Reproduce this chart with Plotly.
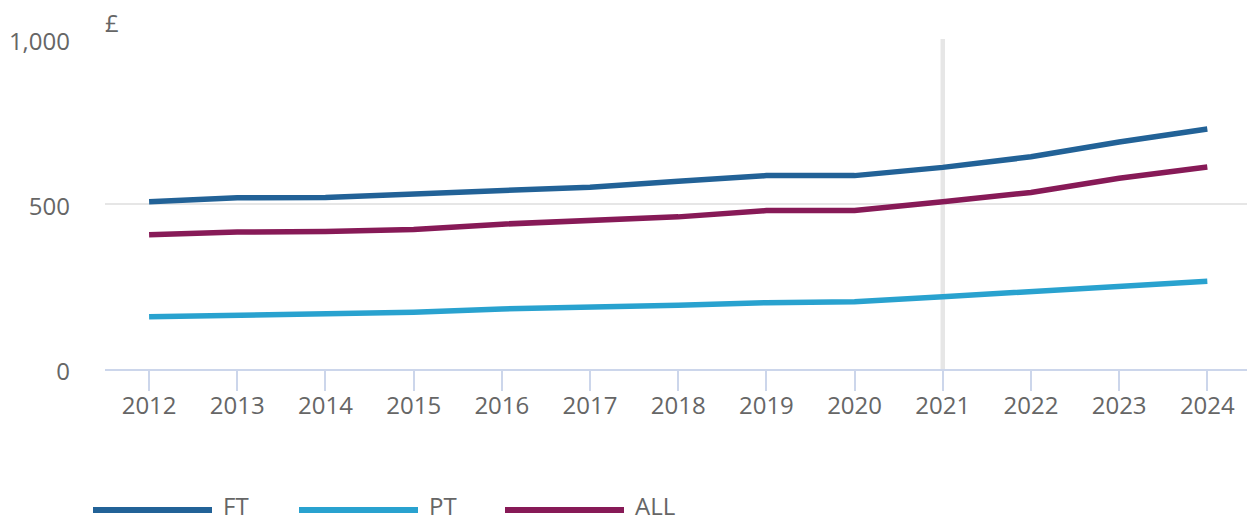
import plotly.graph_objects as go

years = [2012, 2013, 2014, 2015, 2016, 2017, 2018, 2019, 2020, 2021, 2022, 2023, 2024]
ft = [507, 519, 520, 530, 541, 551, 569, 586, 586, 611, 643, 688, 727]
pt = [158, 162, 165, 172, 182, 186, 193, 201, 204, 219, 234, 247, 266]
all_ = [407, 415, 417, 423, 439, 452, 461, 480, 480, 507, 535, 578, 612]

series_names = ["FT", "PT", "ALL"]
series_values = [ft, pt, all_]
series_colors = ["#226297", "#29a2cf", "#871a57"]

y_ticks = [0, 500, 1000]
y_ticktext = ["0", "500", "1,000"]
highlight_year = 2021

FONT = "Open Sans"
GREY = "#666666"
FS = 24

fig = go.Figure()
for name, vals, col in zip(series_names, series_values, series_colors):
    fig.add_trace(go.Scatter(x=years, y=vals, name=name, mode="lines",
                             line=dict(color=col, width=5.5), showlegend=False))

# vertical plot line
fig.add_shape(type="line", x0=highlight_year, x1=highlight_year, y0=0, y1=1,
              xref="x", yref="paper", line=dict(color="#e6e6e6", width=4.5), layer="below")

# manual legend
L, W, T, H = 105, 1142, 39, 330
def px(x):
    return (x - L) / W
def py(y):
    return (T + H - y) / H

leg_y = 510
start = 93
step = 206
for i, (name, col) in enumerate(zip(series_names, series_colors)):
    x0 = start + i * step
    fig.add_shape(type="line", xref="paper", yref="paper",
                  x0=px(x0), x1=px(x0 + 119), y0=py(leg_y), y1=py(leg_y),
                  line=dict(color=col, width=6))
    fig.add_annotation(xref="paper", yref="paper", x=px(x0 + 129), y=py(523),
                       text=name, showarrow=False, xanchor="left", yanchor="bottom",
                       borderpad=0,
                       font=dict(family=FONT, size=FS, color=GREY))

# y axis title "£"
fig.add_annotation(xref="paper", yref="paper", x=px(103), y=py(23), text="£",
                   showarrow=False, xanchor="left", yanchor="middle",
                   font=dict(family=FONT, size=FS, color=GREY))

fig.update_layout(
    width=1247, height=525,
    margin=dict(l=L, r=0, t=T, b=525 - T - H),
    paper_bgcolor="white", plot_bgcolor="white",
    font=dict(family=FONT, size=FS, color=GREY),
    xaxis=dict(range=[2011.5, 2024.45], tickmode="array", tickvals=years,
               ticktext=[str(y) for y in years], showgrid=False, zeroline=False,
               showline=True, linecolor="#ccd6eb", linewidth=2,
               ticks="outside", ticklen=20, tickwidth=2, tickcolor="#ccd6eb",
               ticklabelstandoff=-6,
               tickfont=dict(family=FONT, size=FS, color=GREY)),
    yaxis=dict(range=[0, 1000], tickmode="array", tickvals=y_ticks, ticktext=y_ticktext,
               showgrid=True, gridcolor="#e6e6e6", gridwidth=2, zeroline=False,
               showline=False, ticks="", ticklabelstandoff=34, ticklabelshift=3,
               tickfont=dict(family=FONT, size=FS, color=GREY)),
)

fig.write_html("out.html", config={"displayModeBar": False},
               post_script="document.body.style.margin='0';document.body.style.overflow='hidden';")
